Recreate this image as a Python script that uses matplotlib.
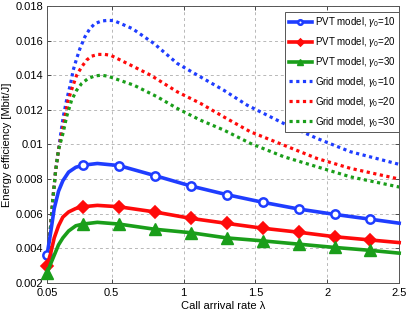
import numpy as np
import matplotlib
matplotlib.use('Agg')
import matplotlib.pyplot as plt

plt.rcParams['font.family'] = ['Liberation Sans', 'DejaVu Sans']
plt.rcParams['mathtext.fontset'] = 'custom'
plt.rcParams['mathtext.rm'] = 'Liberation Sans'
plt.rcParams['mathtext.it'] = 'Liberation Sans:italic'

# PVT model (solid lines with markers)
lam_pvt = [0.05, 0.075, 0.1, 0.13, 0.16, 0.2, 0.25, 0.3, 0.4, 0.55, 0.8, 1.05,
           1.3, 1.55, 1.8, 2.05, 2.3, 2.5]
pvt_10 = [0.0036, 0.0049, 0.0063, 0.0073, 0.0079, 0.0084, 0.00868, 0.0088, 0.0089,
          0.00878, 0.0082, 0.0076, 0.0071, 0.00666, 0.00627, 0.00596, 0.00568, 0.00545]
pvt_20 = [0.0030, 0.0037, 0.0046, 0.0053, 0.0058, 0.0061, 0.0063, 0.0064, 0.00648,
          0.0064, 0.0061, 0.00573, 0.00544, 0.00516, 0.00493, 0.00467, 0.00448, 0.00433]
pvt_30 = [0.00256, 0.0031, 0.0036, 0.0042, 0.0046, 0.0050, 0.0053, 0.0054, 0.0055,
          0.0054, 0.0051, 0.0049, 0.0046, 0.00443, 0.00424, 0.00405, 0.00388, 0.00372]
marker_idx = [0, 7, 9, 10, 11, 12, 13, 14, 15, 16]

# Grid model (dotted lines)
lam_g10 = [0.05, 0.07, 0.09, 0.11, 0.13, 0.145, 0.163, 0.186, 0.214, 0.232, 0.256,
           0.279, 0.313, 0.348, 0.383, 0.429, 0.475, 0.516, 0.644, 0.794, 0.956,
           1.118, 1.28, 1.442, 1.697, 1.928, 2.16, 2.5]
grid_10 = [0.0028, 0.0048, 0.0068, 0.0085, 0.0097, 0.0106, 0.0116, 0.01256, 0.01352,
           0.01429, 0.01496, 0.01554, 0.01621, 0.01669, 0.01698, 0.01713, 0.01717,
           0.01715, 0.01669, 0.01583, 0.01468, 0.0139, 0.01313, 0.01227, 0.01121,
           0.01035, 0.00958, 0.00885]
lam_g20 = [0.05, 0.07, 0.09, 0.11, 0.13, 0.152, 0.175, 0.197, 0.228, 0.256, 0.291,
           0.325, 0.36, 0.406, 0.452, 0.493, 0.632, 0.771, 0.956, 1.118, 1.28,
           1.465, 1.697, 1.928, 2.16, 2.5]
grid_20 = [0.0028, 0.0048, 0.0068, 0.0085, 0.0097, 0.0106, 0.0116, 0.01256, 0.01333,
           0.0140, 0.01448, 0.01487, 0.0151, 0.0152, 0.0152, 0.01515, 0.01458, 0.0140,
           0.01304, 0.01237, 0.01159, 0.01073, 0.00996, 0.00919, 0.00862, 0.0080]
lam_g30 = [0.05, 0.07, 0.09, 0.11, 0.13, 0.163, 0.186, 0.221, 0.256, 0.291, 0.336,
           0.383, 0.429, 0.475, 0.655, 0.817, 0.956, 1.118, 1.28, 1.465, 1.697,
           1.928, 2.16, 2.5]
grid_30 = [0.0028, 0.0048, 0.0068, 0.0085, 0.0097, 0.0107, 0.0116, 0.01256, 0.01313,
           0.01352, 0.01381, 0.01396, 0.0140, 0.01394, 0.01342, 0.01275, 0.01208,
           0.0114, 0.01083, 0.01006, 0.00929, 0.00871, 0.00813, 0.00754]

x_ticks = [0.05, 0.5, 1, 1.5, 2, 2.5]
x_labels = ['0.05', '0.5', '1', '1.5', '2', '2.5']
y_ticks = [0.002, 0.004, 0.006, 0.008, 0.01, 0.012, 0.014, 0.016, 0.018]
y_labels = ['0.002', '0.004', '0.006', '0.008', '0.01', '0.012', '0.014', '0.016', '0.018']

blue = '#1f3dff'
red = '#ff0a0a'
green = '#1a9e1a'

fig = plt.figure(figsize=(4.09, 3.14), dpi=100)
ax = fig.add_axes([0.115, 0.099, 0.861, 0.882])

ax.plot(lam_pvt, pvt_10, '-', color=blue, lw=2.6, marker='o', ms=6, mfc='white',
        mew=1.8, markevery=marker_idx, clip_on=False, zorder=3,
        label=r'PVT model, $\gamma_0$=10')
ax.plot(lam_pvt, pvt_20, '-', color=red, lw=2.6, marker='D', ms=6.5, mew=1.2,
        markevery=marker_idx, clip_on=False, zorder=3,
        label=r'PVT model, $\gamma_0$=20')
ax.plot(lam_pvt, pvt_30, '-', color=green, lw=2.6, marker='^', ms=8.5, mew=1.0,
        markevery=marker_idx, clip_on=False, zorder=3,
        label=r'PVT model, $\gamma_0$=30')

dot = (0, (1, 1.1))
ax.plot(lam_g10, grid_10, color=blue, lw=2.3, ls=dot, zorder=2,
        label=r'Grid model, $\gamma_0$=10')
ax.plot(lam_g20, grid_20, color=red, lw=2.3, ls=dot, zorder=2,
        label=r'Grid model, $\gamma_0$=20')
ax.plot(lam_g30, grid_30, color=green, lw=2.3, ls=dot, zorder=2,
        label=r'Grid model, $\gamma_0$=30')

ax.set_xlim(0.05, 2.5)
ax.set_ylim(0.002, 0.018)
ax.set_xticks(x_ticks)
ax.set_xticklabels(x_labels)
ax.set_yticks(y_ticks)
ax.set_yticklabels(y_labels)
ax.tick_params(direction='in', length=3, width=0.6, labelsize=8, top=True, right=True,
               colors='#333333', labelcolor='black')
ax.tick_params(axis='x', pad=3.5)
ax.tick_params(axis='y', pad=2.5)
ax.grid(True, ls=(0, (3, 3)), color='#b8b8b8', lw=0.7)
for s in ax.spines.values():
    s.set_color('#555555')
    s.set_linewidth(0.7)

ax.set_xlabel('Call arrival rate λ', fontsize=8, labelpad=2)
ax.set_ylabel('Energy efficiency [Mbit/J]', fontsize=8, labelpad=3)

leg = ax.legend(loc='upper right', bbox_to_anchor=(1.0, 0.98), borderaxespad=0,
                fontsize=7, fancybox=False, framealpha=1, edgecolor='#555555',
                handlelength=2.3, handletextpad=0.3, labelspacing=0.6,
                borderpad=0.4, markerscale=0.55)
leg.get_frame().set_linewidth(0.7)

plt.savefig('out.png', dpi=100)
